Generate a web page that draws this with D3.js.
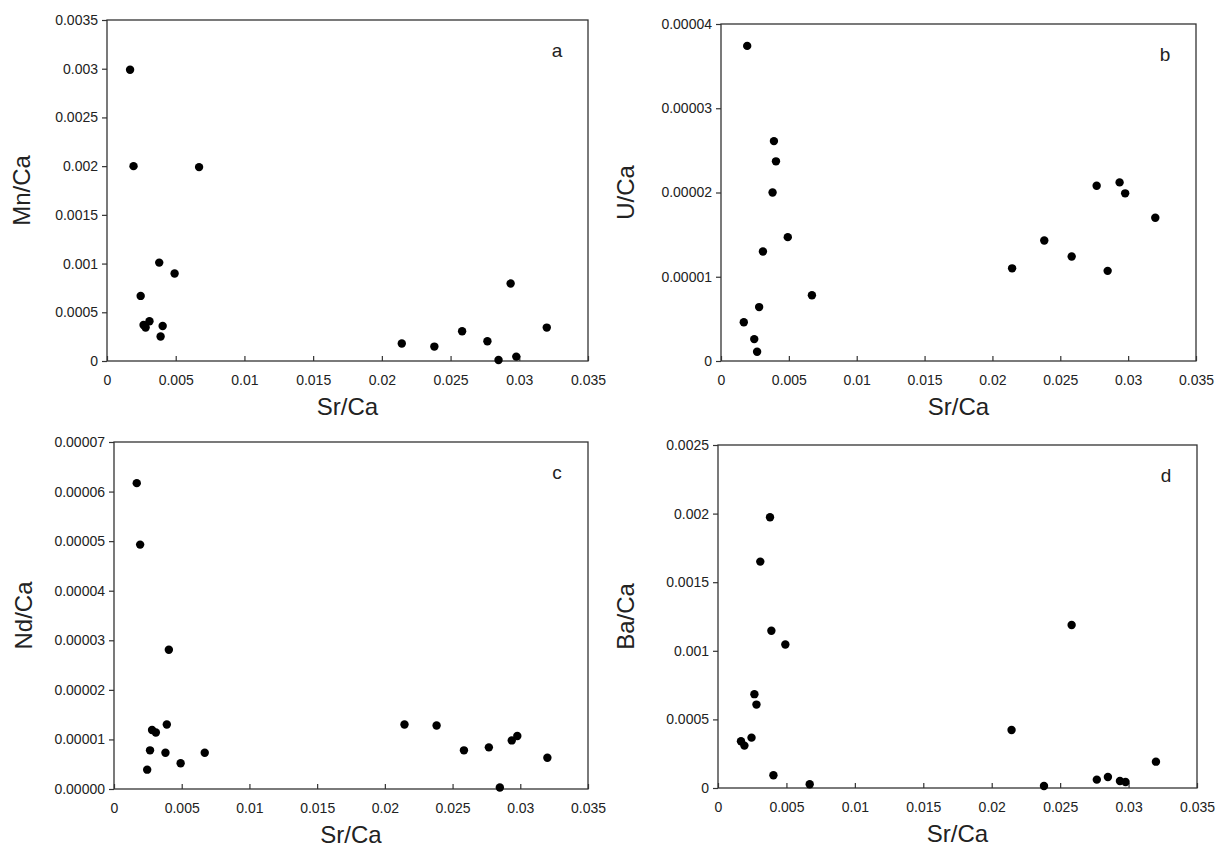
<!DOCTYPE html>
<html>
<head>
<meta charset="utf-8">
<script src="https://cdn.jsdelivr.net/npm/d3@7"></script>
<style>
  body { margin: 0; background: #fff; }
  svg { display: block; font-family: Arial, "Liberation Sans", sans-serif; }
  .tick text { fill: #222; }
</style>
</head>
<body>
<div id="chart"></div>
<script>
// shared x values (Sr/Ca), one per sample
var srCa = [0.00168, 0.00193, 0.00245, 0.00266, 0.00281, 0.00309, 0.0038, 0.0039, 0.00405, 0.00492, 0.0067,
            0.02145, 0.02382, 0.02584, 0.02768, 0.02849, 0.02937, 0.02978, 0.032];
var mnCa = [0.00299, 0.00200, 0.000668, 0.00037, 0.000343, 0.000408, 0.00101, 0.000251, 0.00036, 0.000898, 0.00199,
            0.000179, 0.000148, 0.000305, 0.000202, 0.00001, 0.000795, 0.000045, 0.000343];
var uCa = [0.0000046, 0.0000374, 0.0000026, 0.0000011, 0.0000064, 0.0000130, 0.0000200, 0.0000261, 0.0000237, 0.0000147, 0.0000078,
           0.0000110, 0.0000143, 0.0000124, 0.0000208, 0.0000107, 0.0000212, 0.0000199, 0.0000170];
var ndCa = [0.0000617, 0.0000493, 0.0000039, 0.0000078, 0.0000119, 0.0000114, 0.0000073, 0.0000130, 0.0000281, 0.0000052, 0.0000073,
            0.0000130, 0.0000128, 0.0000078, 0.0000084, 0.0000003, 0.0000098, 0.0000107, 0.0000063];
var baCa = [0.000341, 0.000309, 0.000367, 0.000684, 0.000608, 0.00165, 0.001973, 0.001146, 0.0000925, 0.001046, 0.000027,
            0.000423, 0.0000146, 0.001188, 0.000061, 0.00008, 0.000051, 0.000044, 0.000192];

var xTicks = [0, 0.005, 0.01, 0.015, 0.02, 0.025, 0.03, 0.035];
var xTickLabels = ['0', '0.005', '0.01', '0.015', '0.02', '0.025', '0.03', '0.035'];

var mnTicks = [0, 0.0005, 0.001, 0.0015, 0.002, 0.0025, 0.003, 0.0035];
var mnTickLabels = ['0', '0.0005', '0.001', '0.0015', '0.002', '0.0025', '0.003', '0.0035'];
var uTicks = [0, 0.00001, 0.00002, 0.00003, 0.00004];
var uTickLabels = ['0', '0.00001', '0.00002', '0.00003', '0.00004'];
var ndTicks = [0, 0.00001, 0.00002, 0.00003, 0.00004, 0.00005, 0.00006, 0.00007];
var ndTickLabels = ['0.00000', '0.00001', '0.00002', '0.00003', '0.00004', '0.00005', '0.00006', '0.00007'];
var baTicks = [0, 0.0005, 0.001, 0.0015, 0.002, 0.0025];
var baTickLabels = ['0', '0.0005', '0.001', '0.0015', '0.002', '0.0025'];

var W = 1221, H = 847;
var svg = d3.select('#chart').append('svg')
  .attr('width', W)
  .attr('height', H);

var panels = [
  {letter: 'a', yTitle: 'Mn/Ca', values: mnCa, yTicks: mnTicks, yLabels: mnTickLabels,
   box: {left: 107, right: 588, top: 20, bottom: 361}, titleX: 22},
  {letter: 'b', yTitle: 'U/Ca', values: uCa, yTicks: uTicks, yLabels: uTickLabels,
   box: {left: 721, right: 1196, top: 24, bottom: 361}, titleX: 626},
  {letter: 'c', yTitle: 'Nd/Ca', values: ndCa, yTicks: ndTicks, yLabels: ndTickLabels,
   box: {left: 114, right: 588, top: 442, bottom: 789}, titleX: 24},
  {letter: 'd', yTitle: 'Ba/Ca', values: baCa, yTicks: baTicks, yLabels: baTickLabels,
   box: {left: 718, right: 1197, top: 445, bottom: 788}, titleX: 626}
];

panels.forEach(function(p){
  var b = p.box;
  var x = d3.scaleLinear().domain([0, 0.035]).range([b.left, b.right]);
  var yMax = p.yTicks[p.yTicks.length - 1];
  var y = d3.scaleLinear().domain([0, yMax]).range([b.bottom, b.top]);
  var g = svg.append('g');

  // frame
  g.append('rect')
    .attr('x', b.left).attr('y', b.top)
    .attr('width', b.right - b.left).attr('height', b.bottom - b.top)
    .attr('fill', 'none').attr('stroke', '#333').attr('stroke-width', 1.3);

  var xAxis = d3.axisBottom(x)
    .tickValues(xTicks)
    .tickFormat(function(d, i){ return xTickLabels[i]; })
    .tickSizeInner(-5).tickSizeOuter(0).tickPadding(14);
  var gx = g.append('g')
    .attr('transform', 'translate(0,' + b.bottom + ')')
    .call(xAxis);

  var yAxis = d3.axisLeft(y)
    .tickValues(p.yTicks)
    .tickFormat(function(d, i){ return p.yLabels[i]; })
    .tickSizeInner(5).tickSizeOuter(0).tickPadding(4);
  var gy = g.append('g')
    .attr('transform', 'translate(' + b.left + ',0)')
    .call(yAxis);

  [gx, gy].forEach(function(a){
    a.select('.domain').remove();
    a.selectAll('.tick line').attr('stroke', '#333').attr('stroke-width', 1.2);
    a.selectAll('.tick text').attr('font-size', 14).attr('font-family', 'Arial, "Liberation Sans", sans-serif');
  });

  // titles
  g.append('text')
    .attr('x', (b.left + b.right) / 2)
    .attr('y', b.bottom + 54)
    .attr('text-anchor', 'middle')
    .attr('font-size', 24)
    .attr('fill', '#222')
    .text('Sr/Ca');
  g.append('text')
    .attr('transform', 'translate(' + p.titleX + ',' + (b.top + b.bottom) / 2 + ') rotate(-90)')
    .attr('text-anchor', 'middle')
    .attr('dy', '0.35em')
    .attr('font-size', 24)
    .attr('fill', '#222')
    .text(p.yTitle);
  g.append('text')
    .attr('x', b.right - 31)
    .attr('y', b.top + 37)
    .attr('text-anchor', 'middle')
    .attr('font-size', 19)
    .attr('fill', '#222')
    .text(p.letter);

  // points
  g.selectAll('circle.pt')
    .data(srCa.map(function(sr, i){ return {x: sr, y: p.values[i]}; }))
    .enter().append('circle')
    .attr('class', 'pt')
    .attr('cx', function(d){ return x(d.x); })
    .attr('cy', function(d){ return y(d.y); })
    .attr('r', 4.2)
    .attr('fill', '#000');
});
</script>
</body>
</html>
